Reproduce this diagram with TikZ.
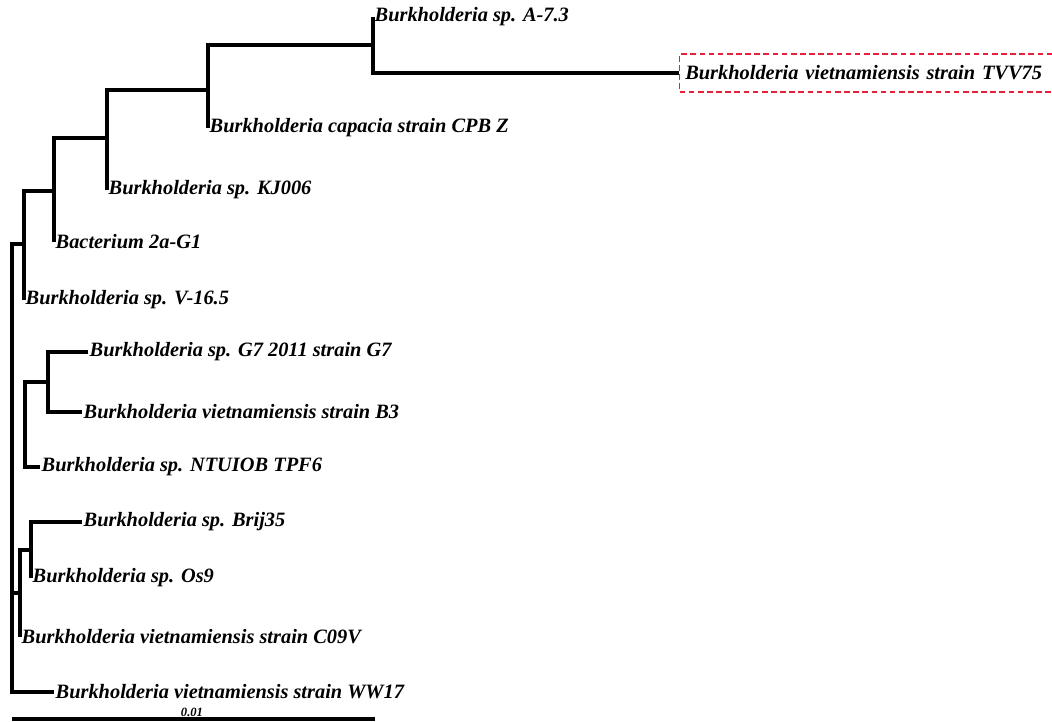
\documentclass[tikz,border=0pt]{standalone}
\usepackage{xcolor}
\usepackage{fontspec}
\setmainfont{Liberation Serif}
\usepackage{tikz}
\definecolor{boxred}{RGB}{232,30,58}

\begin{document}
\begin{tikzpicture}[
    branch/.style={line width=2.3pt},
    taxon/.style={anchor=west, inner sep=1pt, font=\bfseries\itshape\fontsize{14.5}{17}\selectfont},
    scalelabel/.style={inner sep=0pt, font=\bfseries\itshape\fontsize{9}{10}\selectfont}
    ]
    \useasboundingbox (0,0) rectangle (26.3,-18.05);
    \clip (0,0) rectangle (26.3,-18.05);
    \coordinate (nRoot) at (0.3,-6.1);
    \coordinate (nA) at (0.6,-6.1);
    \coordinate (nB) at (1.35,-4.775);
    \coordinate (nC) at (2.675,-3.45);
    \coordinate (nD) at (5.2,-2.25);
    \coordinate (nE) at (9.325,-1.125);
    \coordinate (nF) at (0.625,-10.625);
    \coordinate (nG) at (1.2,-9.55);
    \coordinate (nH) at (0.5,-14.825);
    \coordinate (nI) at (0.775,-13.75);
    \node[taxon] (a73) at (9.325,-0.425) {Burkholderia sp. A-7.3};
    \node[taxon, draw=boxred, line width=0.9pt, dash pattern=on 4pt off 2.5pt,
        inner xsep=4pt, minimum height=0.95cm, text width=9.5cm, align=left]
        (tvv) at (16.975,-1.825) {Burkholderia vietnamiensis strain TVV75};
    \node[taxon] (capacia) at (5.2,-3.2) {Burkholderia capacia strain CPB Z};
    \node[taxon] (kj006) at (2.675,-4.75) {Burkholderia sp. KJ006};
    \node[taxon] (bact) at (1.35,-6.05) {Bacterium 2a-G1};
    \node[taxon] (v165) at (0.6,-7.5) {Burkholderia sp. V-16.5};
    \node[taxon] (g7) at (2.2,-8.8) {Burkholderia sp. G7 2011 strain G7};
    \node[taxon] (b3) at (2.05,-10.3) {Burkholderia vietnamiensis strain B3};
    \node[taxon] (tpf6) at (1.0,-11.675) {Burkholderia sp. NTUIOB TPF6};
    \node[taxon] (brij) at (2.05,-13.05) {Burkholderia sp. Brij35};
    \node[taxon] (os9) at (0.775,-14.45) {Burkholderia sp. Os9};
    \node[taxon] (c09v) at (0.5,-15.925) {Burkholderia vietnamiensis strain C09V};
    \node[taxon] (ww17) at (1.35,-17.3) {Burkholderia vietnamiensis strain WW17};
    \draw[branch] (a73.west) -| (nE) |- (tvv.west);
    \draw[branch] (nE) -| (nD) |- (capacia.west);
    \draw[branch] (nD) -| (nC) |- (kj006.west);
    \draw[branch] (nC) -| (nB) |- (bact.west);
    \draw[branch] (nB) -| (nA) |- (v165.west);
    \draw[branch] (g7.west) -| (nG) |- (b3.west);
    \draw[branch] (nG) -| (nF) |- (tpf6.west);
    \draw[branch] (brij.west) -| (nI) |- (os9.west);
    \draw[branch] (nI) -| (nH) |- (c09v.west);
    \draw[branch] (nA) -| (nRoot) |- (ww17.west);
    \draw[branch] (nH) -- (nRoot |- nH);
    \coordinate (bar0) at (0.3,-17.975);
    \coordinate (bar1) at (9.375,-17.975);
    \draw[line width=3pt] (bar0) -- (bar1);
    \node[scalelabel] (scl) at (4.8,-17.82) {0.01};
\end{tikzpicture}
\end{document}
